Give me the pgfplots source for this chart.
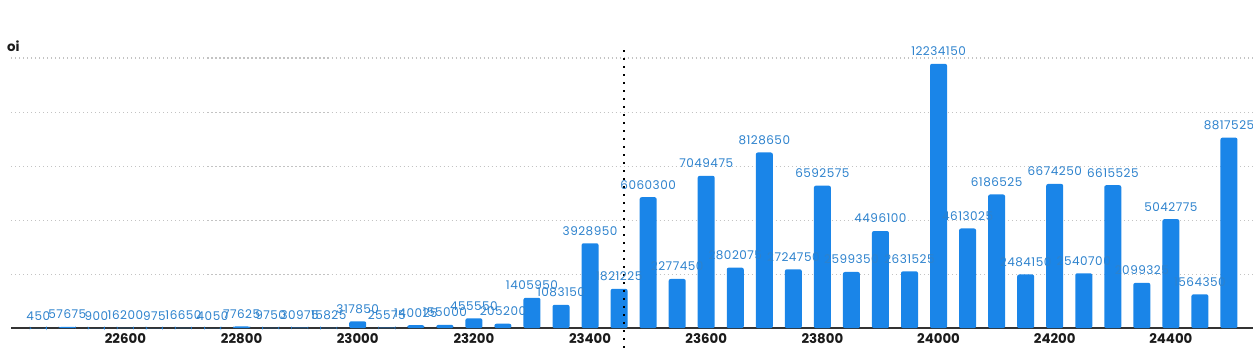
\documentclass[border=0pt]{standalone}
\usepackage{pgfplots}
\usepackage{pgfplotstable}
\pgfplotsset{compat=1.18}
\usepackage{fontspec}
\setmainfont{Poppins}
\newfontfamily\labfont[LetterSpace=4]{Poppins}
\definecolor{barblue}{RGB}{26,133,232}
\definecolor{labblue}{RGB}{45,130,205}
\definecolor{gridgray}{RGB}{195,195,195}
\definecolor{axisdark}{RGB}{51,51,51}
\definecolor{tickblack}{RGB}{26,26,26}
\pgfplotstableread{
s v
22450 450
22500 57675
22550 900
22600 16200
22650 975
22700 16650
22750 4050
22800 77625
22850 9750
22900 30975
22950 15825
23000 317850
23050 25575
23100 140025
23150 155000
23200 455550
23250 205200
23300 1405950
23350 1083150
23400 3928950
23450 1821225
23500 6060300
23550 2277450
23600 7049475
23650 2802075
23700 8128650
23750 2724750
23800 6592575
23850 2599350
23900 4496100
23950 2631525
24000 12234150
24050 4613025
24100 6186525
24150 2484150
24200 6674250
24250 2540700
24300 6615525
24350 2099325
24400 5042775
24450 1564350
24500 8817525
}\data
\begin{document}
\begin{tikzpicture}
\begin{axis}[
  scale only axis,
  width=930.75pt, height=202.5pt,
  xmin=22403.6, xmax=24541.4,
  ymin=0, ymax=12.5e6,
  clip=false,
  axis x line*=bottom,
  axis y line*=left,
  x axis line style={-, draw=axisdark, line width=1.5pt},
  y axis line style={draw=none},
  xtick={22600,22800,23000,23200,23400,23600,23800,24000,24200,24400},
  xticklabels={22600,22800,23000,23200,23400,23600,23800,24000,24200,24400},
  major tick length=0pt,
  tick style={draw=none},
  xticklabel style={font=\bfseries\fontsize{10}{11}\selectfont, text=tickblack, anchor=north, inner sep=0pt, yshift=-3.5pt},
  ytick={2.5e6,5e6,7.5e6,10e6,12.5e6},
  yticklabels={},
  scaled y ticks=false,
  scaled x ticks=false,
  ymajorgrids=true,
  xmajorgrids=false,
  major grid style={draw=gridgray, line width=0.8pt, dash pattern=on 0.8pt off 2.2pt},
  ybar,
  bar width=29.3,
  point meta=explicit symbolic,
  nodes near coords,
  every node near coord/.append style={font=\labfont\fontsize{9}{10}\selectfont, text=labblue, anchor=base, inner sep=0pt, yshift=6pt},
]
\addplot[draw=none, fill=barblue, rounded corners=1.5pt] table[x=s, y=v, meta=v] \data;
\draw[black, line width=1.6pt, dash pattern=on 1.6pt off 4.4pt] (axis cs:23459,12.87e6) -- (axis cs:23459,-1.065e6);
\node[anchor=base west, inner sep=0pt, font=\bfseries\fontsize{10}{12}\selectfont, text=tickblack] at (axis cs:22396,12.824e6) {oi};
\coordinate (bl) at (axis cs:22384.1,-1.0648e6);
\coordinate (tr) at (axis cs:24541.4,15.185e6);
\end{axis}
\pgfresetboundingbox
\path[use as bounding box] (bl) rectangle (tr);
\end{tikzpicture}
\end{document}
